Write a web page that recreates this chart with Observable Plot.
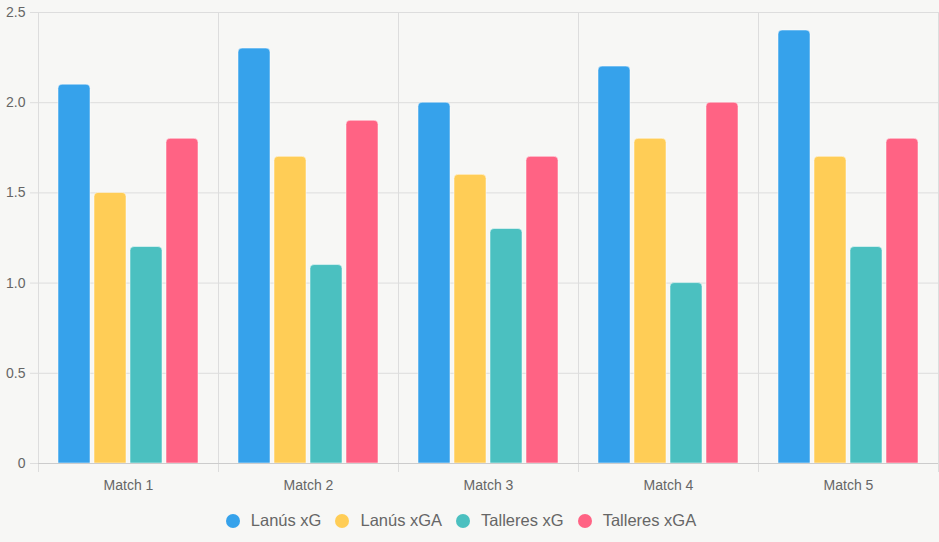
<!DOCTYPE html>
<html>
<head>
<meta charset="utf-8">
<script src="https://cdn.jsdelivr.net/npm/d3@7"></script>
<script src="https://cdn.jsdelivr.net/npm/@observablehq/plot@0.6"></script>
<style>
  html, body { margin: 0; padding: 0; background: #f7f7f5; }
  body { width: 939px; height: 542px; overflow: hidden; font-family: "Liberation Sans", Arial, sans-serif; }
  #legend { display: flex; justify-content: center; align-items: center; margin-top: 9px; padding-right: 17px; font-size: 16.5px; color: #666; }
  .item { display: flex; align-items: center; margin: 0 7px; }
  .dot { width: 14px; height: 14px; border-radius: 50%; margin-right: 11px; }
</style>
</head>
<body>
<div id="chart"></div>
<div id="legend"></div>
<script>
const matches = ["Match 1", "Match 2", "Match 3", "Match 4", "Match 5"];
const series = ["Lanús xG", "Lanús xGA", "Talleres xG", "Talleres xGA"];
const colors = ["#36a2eb", "#ffcd56", "#4bc0c0", "#ff6384"];
const lanusXG = [2.1, 2.3, 2.0, 2.2, 2.4];
const lanusXGA = [1.5, 1.7, 1.6, 1.8, 1.7];
const talleresXG = [1.2, 1.1, 1.3, 1.0, 1.2];
const talleresXGA = [1.8, 1.9, 1.7, 2.0, 1.8];
const yTicks = [0, 0.5, 1.0, 1.5, 2.0, 2.5];

const valuesBySeries = [lanusXG, lanusXGA, talleresXG, talleresXGA];
const table = [];
matches.forEach((m, i) => {
  series.forEach((s, j) => table.push({match: m, series: s, value: valuesBySeries[j][i]}));
});

const chart = Plot.plot({
  width: 939,
  height: 502,
  marginTop: 12,
  marginLeft: 38,
  marginRight: 1,
  marginBottom: 39,
  style: {background: "#f7f7f5", fontFamily: "Liberation Sans, Arial, sans-serif"},
  fx: {domain: matches, padding: 0, label: null, axis: null},
  x: {domain: series, paddingInner: 0.1, paddingOuter: 0.55, axis: null},
  y: {domain: [0, 2.5], label: null},
  color: {domain: series, range: colors},
  marks: [
    Plot.gridY(yTicks, {stroke: "#dddddd", strokeOpacity: 1}),
    Plot.axisY(yTicks, {tickSize: 8, stroke: "#dddddd", tickPadding: 5, fill: "#666", fontSize: 14,
      tickFormat: d => d === 0 ? "0" : d.toFixed(1), label: null}),
    Plot.frame({anchor: "left", stroke: "#dddddd", insetBottom: -8}),
    Plot.frame({anchor: "right", stroke: "#dddddd", insetBottom: -8}),
    Plot.barY(table, {fx: "match", x: "series", y: "value", fill: "series",
      stroke: "#ffffff", strokeOpacity: 0.5, strokeWidth: 1, ry1: 4}),
    Plot.ruleY([0], {stroke: "#cccccc"}),
    Plot.axisFx({anchor: "bottom", tickSize: 0, tickPadding: 17, fill: "#666", fontSize: 14, label: null})
  ]
});
document.getElementById("chart").appendChild(chart);

const legend = document.getElementById("legend");
series.forEach((s, i) => {
  const item = document.createElement("div");
  item.className = "item";
  const dot = document.createElement("span");
  dot.className = "dot";
  dot.style.background = colors[i];
  const label = document.createElement("span");
  label.textContent = s;
  item.appendChild(dot);
  item.appendChild(label);
  legend.appendChild(item);
});
</script>
</body>
</html>
